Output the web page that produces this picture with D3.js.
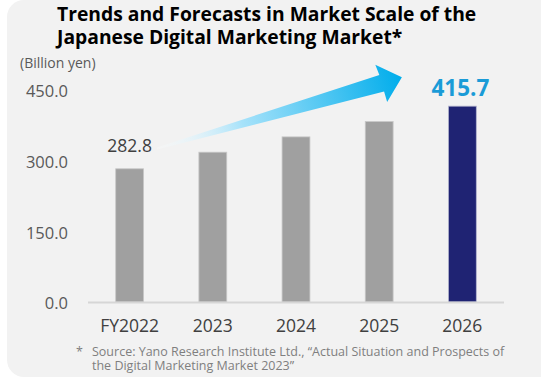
<!DOCTYPE html>
<html>
<head>
<meta charset="utf-8">
<script src="https://cdn.jsdelivr.net/npm/d3@7"></script>
<style>
  html, body { margin: 0; padding: 0; background: #ffffff; }
  svg { display: block; }
  text { font-family: "Open Sans", "Noto Sans", sans-serif; }
</style>
</head>
<body>
<svg id="chart" width="541" height="379"></svg>
<script>
// Market scale, billion yen
const years = ["FY2022", "2023", "2024", "2025", "2026"];
const values = [282.8, 318.0, 350.5, 383.0, 415.7];
const yTicks = [0, 150, 300, 450];
const titleLines = [
  "Trends and Forecasts in Market Scale of the",
  "Japanese Digital Marketing Market*"
];
const unitLabel = "(Billion yen)";
const footnoteLines = [
  "Source: Yano Research Institute Ltd., \u201cActual Situation and Prospects of",
  "the Digital Marketing Market 2023\u201d"
];

const svg = d3.select("#chart");

// rounded panel behind everything
svg.append("rect")
  .attr("x", 7).attr("y", 0)
  .attr("width", 550).attr("height", 377)
  .attr("rx", 17)
  .attr("fill", "#f2f2f2");

const x = d3.scaleBand().domain(years).range([88, 504]).paddingInner(0.665).paddingOuter(0.333);
const y = d3.scaleLinear().domain([0, 450]).range([302, 90]);

// gradient for the growth arrow
const defs = svg.append("defs");
const grad = defs.append("linearGradient")
  .attr("id", "arrowGrad")
  .attr("gradientUnits", "userSpaceOnUse")
  .attr("x1", 0).attr("y1", 0).attr("x2", 255).attr("y2", 0);
grad.append("stop").attr("offset", "0%").attr("stop-color", "#ffffff").attr("stop-opacity", 0.2);
grad.append("stop").attr("offset", "35%").attr("stop-color", "#a6e2fa");
grad.append("stop").attr("offset", "100%").attr("stop-color", "#00adeb");

// title
svg.append("text")
  .attr("x", 57).attr("y", 21)
  .attr("font-size", 19.3).attr("font-weight", 700).attr("fill", "#000")
  .selectAll("tspan").data(titleLines).join("tspan")
  .attr("x", 57).attr("dy", (d, i) => i === 0 ? 0 : 23)
  .text(d => d);

// unit label
svg.append("text")
  .attr("x", 20).attr("y", 68)
  .attr("font-size", 14).attr("fill", "#595959")
  .text(unitLabel);

// y axis labels
const yAxis = d3.axisLeft(y).tickValues(yTicks).tickFormat(d3.format(".1f")).tickSize(0).tickPadding(0);
const yg = svg.append("g").attr("transform", "translate(68,1.5)").call(yAxis);
yg.select(".domain").remove();
yg.selectAll("text")
  .attr("font-family", "\"Open Sans\", sans-serif")
  .attr("font-size", 16.5).attr("fill", "#595959");

// bars
svg.append("g").selectAll("rect").data(values).join("rect")
  .attr("x", (d, i) => x(years[i]))
  .attr("y", d => y(d))
  .attr("width", x.bandwidth())
  .attr("height", d => y(0) - y(d))
  .attr("fill", (d, i) => i === years.length - 1 ? "#1f2373" : "#a0a0a0")
  .attr("stroke", (d, i) => i === years.length - 1 ? "#b4b6cf" : "#c8c8c8")
  .attr("stroke-width", 0.8);

// baseline
svg.append("line")
  .attr("x1", 88).attr("x2", 504)
  .attr("y1", y(0) + 0.5).attr("y2", y(0) + 0.5)
  .attr("stroke", "#d6d6d6").attr("stroke-width", 2);

// x axis labels
const xAxis = d3.axisBottom(x).tickSize(0).tickPadding(0);
const xg = svg.append("g").attr("transform", "translate(0,320)").call(xAxis);
xg.select(".domain").remove();
xg.selectAll("text")
  .attr("font-family", "\"Open Sans\", sans-serif")
  .attr("font-size", 17.5).attr("fill", "#404040");

// value labels: first and last year
svg.append("text")
  .attr("x", x(years[0]) + x.bandwidth() / 2)
  .attr("y", y(values[0]) - 17)
  .attr("text-anchor", "middle")
  .attr("font-size", 17.5).attr("fill", "#404040")
  .text(values[0].toFixed(1));

const last = values.length - 1;
svg.append("text")
  .attr("x", x(years[last]) + x.bandwidth() / 2 - 2)
  .attr("y", y(values[last]) - 10)
  .attr("text-anchor", "middle")
  .attr("font-size", 22.5).attr("font-weight", 700).attr("fill", "#1a9bd7")
  .text(values[last].toFixed(1));

// growth arrow: tapered shaft with a head, drawn along its own axis then rotated
const arrowShape = [[0, -1], [234, -8.5], [233, -19.5], [255, 0], [234, 19.5], [234, 8.5], [0, 1]];
svg.append("path")
  .attr("transform", "translate(157,148.5) rotate(-16.2)")
  .attr("d", d3.line()(arrowShape) + "Z")
  .attr("fill", "url(#arrowGrad)");

// footnote
svg.append("text")
  .attr("x", 76).attr("y", 356)
  .attr("font-size", 12.5).attr("fill", "#7f7f7f")
  .text("*");
svg.append("text")
  .attr("font-size", 12.5).attr("fill", "#7f7f7f")
  .selectAll("tspan").data(footnoteLines).join("tspan")
  .attr("x", 92).attr("y", (d, i) => 356 + i * 14)
  .text(d => d);
</script>
</body>
</html>
